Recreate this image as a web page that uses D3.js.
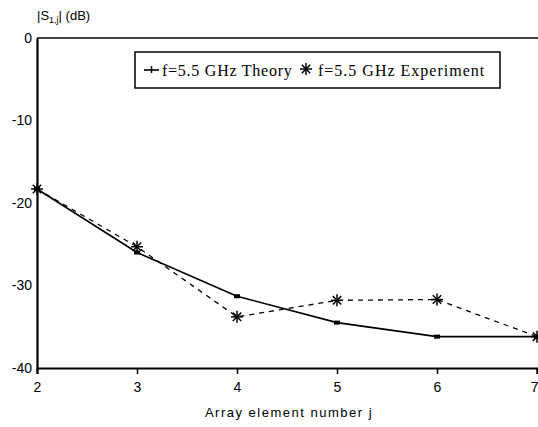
<!DOCTYPE html>
<html><head><meta charset="utf-8">
<script src="https://cdn.jsdelivr.net/npm/d3@7"></script>
<style>body{margin:0;background:#fff}svg{display:block}</style>
</head><body>
<script>
const elements = [2, 3, 4, 5, 6, 7];
const theory = [-18.3, -26.0, -31.3, -34.5, -36.2, -36.2];
const experiment = [-18.3, -25.3, -33.8, -31.8, -31.7, -36.2];
const xTicks = [2, 3, 4, 5, 6, 7];
const yTicks = [0, -10, -20, -30, -40];
const legendLabels = ["f=5.5 GHz Theory", "f=5.5 GHz Experiment"];

const W = 538, H = 427;
const svg = d3.select("body").append("svg").attr("width", W).attr("height", H);
const x = d3.scaleLinear().domain([2, 7]).range([37, 537]);
const y = d3.scaleLinear().domain([-40, 0]).range([368, 38]);

// axes
const xAxis = svg.append("g").attr("transform", `translate(0,${y(-40)})`)
  .call(d3.axisBottom(x).tickValues(xTicks).tickSize(6).tickFormat(d3.format("d")));
const yAxis = svg.append("g").attr("transform", `translate(${x(2)},0)`)
  .call(d3.axisLeft(y).tickValues(yTicks).tickSize(0).tickPadding(5).tickFormat(d => d));
[xAxis, yAxis].forEach(g => {
  g.select(".domain").attr("stroke", "#000").attr("stroke-width", 2.2);
  g.selectAll("line").attr("stroke", "#000").attr("stroke-width", 1.5);
  g.selectAll("text").attr("font-family", "Liberation Sans, Arial, sans-serif")
    .attr("font-size", 14).attr("fill", "#000");
});
xAxis.selectAll("text").attr("dy", "1.1em");
xAxis.selectAll(".tick").filter(d => d === 7).select("text").attr("text-anchor", "end").attr("dx", 1);
// top frame line
svg.append("line").attr("x1", x(2)).attr("x2", W).attr("y1", y(0)).attr("y2", y(0))
  .attr("stroke", "#000").attr("stroke-width", 1.6);

const line = d3.line().x((d, i) => x(elements[i])).y(d => y(d));

// theory
svg.append("path").datum(theory).attr("d", line).attr("fill", "none")
  .attr("stroke", "#000").attr("stroke-width", 1.6);
svg.selectAll(".tm").data(theory).enter().append("rect")
  .attr("x", (d, i) => x(elements[i]) - 3).attr("y", d => y(d) - 2)
  .attr("width", 6).attr("height", 4).attr("fill", "#000");

// experiment
svg.append("path").datum(experiment).attr("d", line).attr("fill", "none")
  .attr("stroke", "#000").attr("stroke-width", 1.3).attr("stroke-dasharray", "5,5");

function asterisk(g, cx, cy, r) {
  for (let a = 0; a < 180; a += 45) {
    const rad = a * Math.PI / 180;
    g.append("line").attr("x1", cx - r * Math.cos(rad)).attr("y1", cy - r * Math.sin(rad))
      .attr("x2", cx + r * Math.cos(rad)).attr("y2", cy + r * Math.sin(rad))
      .attr("stroke", "#000").attr("stroke-width", 1.5);
  }
}
const em = svg.append("g");
experiment.forEach((d, i) => asterisk(em, x(elements[i]), y(d), 6));

// legend
const lg = svg.append("g");
lg.append("rect").attr("x", 135).attr("y", 52).attr("width", 365).attr("height", 36)
  .attr("fill", "#fff").attr("stroke", "#000").attr("stroke-width", 1.5);
lg.append("line").attr("x1", 144).attr("x2", 159).attr("y1", 70).attr("y2", 70)
  .attr("stroke", "#000").attr("stroke-width", 1.6);
lg.append("line").attr("x1", 151.5).attr("x2", 151.5).attr("y1", 66).attr("y2", 73)
  .attr("stroke", "#000").attr("stroke-width", 1.5);
lg.append("text").attr("x", 162).attr("y", 76).text(legendLabels[0])
  .attr("font-family", "Liberation Serif, Times New Roman, serif").attr("font-size", 16)
  .attr("letter-spacing", 0.75);
asterisk(lg, 306, 69, 6);
lg.append("text").attr("x", 318).attr("y", 76).text(legendLabels[1])
  .attr("font-family", "Liberation Serif, Times New Roman, serif").attr("font-size", 16)
  .attr("letter-spacing", 1.0);

// y title
const yt = svg.append("text").attr("x", 37).attr("y", 20)
  .attr("font-family", "Liberation Sans, Arial, sans-serif").attr("font-size", 13);
yt.append("tspan").text("|S");
yt.append("tspan").attr("font-size", 9).attr("dy", 3).text("1,j");
yt.append("tspan").attr("dy", -3).text("| (dB)");

// x title
svg.append("text").attr("x", 289).attr("y", 417).attr("text-anchor", "middle")
  .attr("font-family", "Liberation Sans, Arial, sans-serif").attr("font-size", 13)
  .attr("letter-spacing", 1.5)
  .text("Array element number j");
</script>
</body></html>
